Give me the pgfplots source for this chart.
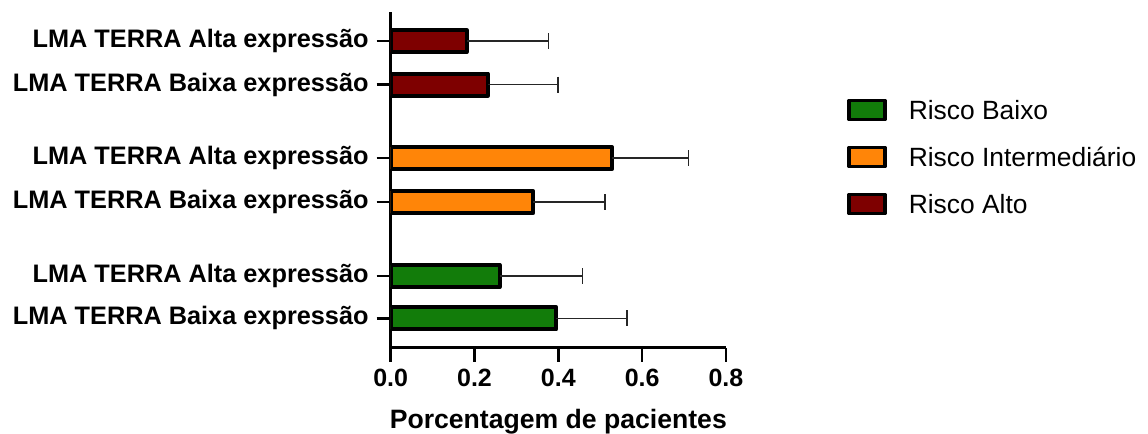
\documentclass[border=0pt]{standalone}
\usepackage{fontspec}
\setmainfont{Liberation Sans}
\usepackage{pgfplots}
\pgfplotsset{compat=1.18}
\definecolor{cgreen}{RGB}{18,124,10}
\definecolor{corange}{RGB}{255,133,8}
\definecolor{cred}{RGB}{126,0,0}
\begin{document}
\begin{tikzpicture}
\path[use as bounding box] (-195.35pt,-43.15pt) rectangle (378.65pt,173.85pt);
\begin{axis}[
  at={(0pt,0pt)}, anchor=south west,
  scale only axis, width=167.65pt, height=168pt,
  xmin=0, xmax=0.8, ymin=-0.668, ymax=6.968,
  axis lines=left,
  axis line style={line width=1.4pt, -},
  xbar, bar width=0.5, bar shift=0pt,
  xtick={0,0.2,0.4,0.6,0.8},
  ytick={0,0.96,2.64,3.64,5.31,6.30},
  yticklabels={LMA TERRA Baixa expressão, LMA TERRA Alta expressão, LMA TERRA Baixa expressão, LMA TERRA Alta expressão, LMA TERRA Baixa expressão, LMA TERRA Alta expressão},
  tick align=outside, major tick length=7pt,
  tick style={line width=1.3pt, black},
  yticklabel style={font=\fontsize{12.65}{14}\selectfont\bfseries, xshift=-0.5pt},
  xticklabel style={font=\fontsize{12.5}{14}\selectfont\bfseries, /pgf/number format/.cd, fixed, fixed zerofill, precision=1},
  /pgf/number format/assume math mode=true,
  xlabel={Porcentagem de pacientes},
  xlabel style={font=\fontsize{13.3}{15}\selectfont\bfseries, yshift=-4.3pt},
  error bars/error bar style={line width=0.8pt, black!85},
  error bars/error mark options={line width=0.8pt, black!85, mark size=4pt, rotate=90},
  legend image code/.code={\draw[#1, line width=1.75pt] (0pt,-3.55pt) rectangle (18pt,5.95pt); \path[draw=none, fill=none] (0pt,0pt) -- (28pt,0pt);},
  legend style={at={(1.36,0.752)}, anchor=north west, draw=none, fill=none, inner sep=0pt,
    font=\fontsize{13.2}{15}\selectfont, row sep=6.5pt,
    nodes={inner sep=2pt, text height=10pt, text depth=3pt}},
  legend cell align=left,
]
\addplot[fill=cgreen, draw=black, line width=2pt, line join=round,
  error bars/.cd, x dir=plus, x explicit]
  coordinates {(0.395,0) +- (0.169,0) (0.260,0.96) +- (0.198,0)};
\addplot[fill=corange, draw=black, line width=2pt, line join=round,
  error bars/.cd, x dir=plus, x explicit]
  coordinates {(0.340,2.64) +- (0.171,0) (0.528,3.64) +- (0.183,0)};
\addplot[fill=cred, draw=black, line width=2pt, line join=round,
  error bars/.cd, x dir=plus, x explicit]
  coordinates {(0.232,5.31) +- (0.167,0) (0.181,6.30) +- (0.196,0)};
\legend{Risco Baixo, Risco Intermediário, Risco Alto}
\end{axis}
\end{tikzpicture}
\end{document}
